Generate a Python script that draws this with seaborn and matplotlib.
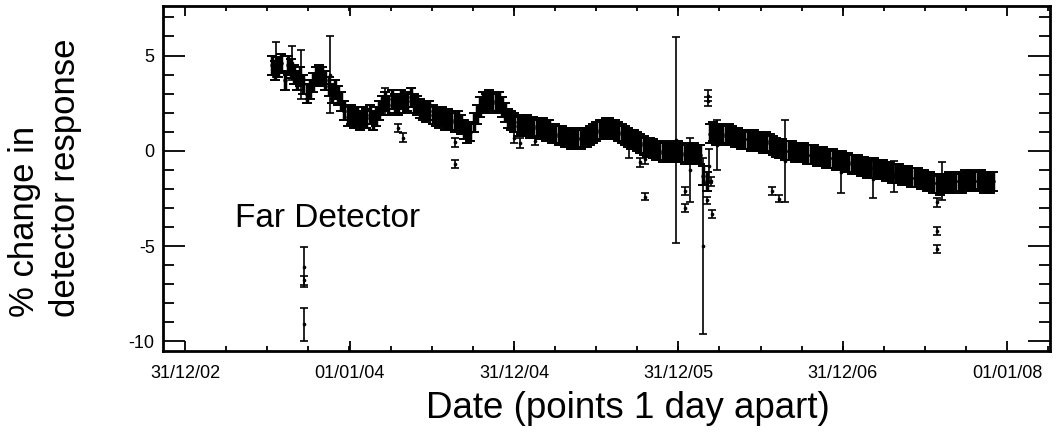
import numpy as np
import pandas as pd
import matplotlib
matplotlib.use("Agg")
import matplotlib.pyplot as plt
import matplotlib.dates as mdates
from matplotlib.ticker import MultipleLocator, FixedLocator
import seaborn as sns

# ---------------- data ----------------
series_start = "2003-07-12"          # first daily point shown, values sampled weekly
weekly_response = [
    4.5, 4.2, 4.4, 4.6, 3.7, 4.5, 4.3, 4.0, 3.7, 3.9,
    3.5, 3.0, 3.2, 3.6, 3.9, 4.0, 3.9, 3.7, 3.4, 3.0,
    3.2, 2.9, 2.6, 2.1, 1.8, 1.9, 1.7, 1.8, 1.6, 1.8,
    1.7, 1.9, 1.6, 1.8, 2.1, 2.4, 2.6, 2.4, 2.7, 2.5,
    2.4, 2.7, 2.5, 2.6, 2.8, 2.5, 2.4, 2.2, 2.1, 2.0,
    2.1, 1.9, 1.8, 1.7, 1.8, 1.6, 1.7, 1.6, 1.5, 1.6,
    1.4, 1.1, 0.9, 1.0, 1.5, 1.9, 2.3, 2.6, 2.5, 2.7,
    2.6, 2.5, 2.6, 2.3, 2.0, 1.7, 1.6, 1.5, 1.3, 1.4,
    1.3, 1.4, 1.2, 1.3, 1.2, 1.1, 1.2, 1.0, 1.1, 0.9,
    0.9, 0.8, 0.8, 0.7, 0.7, 0.6, 0.6, 0.7, 0.6, 0.7,
    0.7, 0.8, 0.9, 1.0, 1.1, 1.1, 1.2, 1.2, 1.1, 1.1,
    1.0, 0.9, 0.8, 0.7, 0.6, 0.6, 0.5, 0.4, 0.3, 0.2,
    0.2, 0.1, 0.0, 0.0, -0.1, -0.1, 0.0, -0.1, -0.1, 0.0,
    -0.1, -0.2, -0.1, -0.2, -0.1, -0.2, -0.2, -1.3, -1.6, 0.9,
    1.0, 0.8, 0.9, 0.9, 0.8, 0.9, 0.8, 0.7, 0.7, 0.6,
    0.6, 0.6, 0.5, 0.6, 0.5, 0.5, 0.4, 0.5, 0.4, 0.3,
    0.2, 0.1, 0.1, 0.0, 0.0, 0.0, -0.1, -0.1, -0.1, -0.1,
    -0.2, -0.2, -0.2, -0.3, -0.3, -0.3, -0.4, -0.4, -0.4, -0.5,
    -0.5, -0.5, -0.6, -0.6, -0.7, -0.7, -0.7, -0.8, -0.8, -0.9,
    -0.9, -0.9, -1.0, -1.0, -1.0, -1.1, -1.1, -1.2, -1.2, -1.2,
    -1.3, -1.3, -1.3, -1.4, -1.4, -1.4, -1.5, -1.5, -1.6, -1.6,
    -1.7, -1.7, -1.8, -1.7, -1.7, -1.6, -1.7, -1.6, -1.6, -1.7,
    -1.5, -1.6, -1.5, -1.6, -1.6, -1.5, -1.7, -1.6, -1.7, -1.6,
]
weekly_error = 0.5

outlier_dates = [
    "2003-09-21", "2003-09-21", "2003-09-21", "2003-11-18", "2004-04-17",
    "2004-04-28", "2004-08-21", "2004-08-21", "2004-12-30", "2005-01-13",
    "2005-02-15", "2005-10-06", "2005-10-17", "2005-10-17", "2005-12-27",
    "2006-01-14", "2006-01-14", "2006-01-27", "2006-02-23", "2006-03-04",
    "2006-03-06", "2006-03-06", "2006-03-10", "2006-03-13", "2006-03-17",
    "2006-03-28", "2006-07-28", "2006-08-11", "2006-08-26", "2006-12-28",
    "2007-03-09", "2007-04-25", "2007-07-29", "2007-07-29", "2007-07-29",
    "2007-08-10", "2003-07-21", "2003-08-26", "2003-09-15", "2004-03-20",
    "2005-09-12",
]
outlier_values = [
    -6.1, -6.8, -9.1, 4.0, 1.2,
    0.7, 0.45, -0.7, 0.7, 0.4,
    0.5, -0.6, -0.45, -2.4, 0.55,
    -2.1, -3.0, -1.0, -5.0, -2.6,
    2.9, 2.6, -0.8, -1.6, -3.3,
    0.3, -2.1, -2.5, -0.55, -1.1,
    -1.5, -1.35, -2.7, -4.2, -5.15,
    -1.6, 4.8, 4.6, 4.0, 2.6,
    0.2,
]
outlier_errors = [
    1.05, 0.25, 0.85, 2.0, 0.2,
    0.25, 0.25, 0.2, 0.3, 0.25,
    0.2, 0.25, 0.25, 0.2, 5.4,
    0.2, 0.2, 1.7, 4.6, 0.2,
    0.3, 0.25, 0.9, 0.25, 0.2,
    1.3, 0.2, 0.2, 2.15, 1.1,
    0.95, 0.8, 0.25, 0.2, 0.2,
    1.0, 0.9, 0.9, 1.3, 0.7,
    0.6,
]

tick_dates = ["2002-12-31", "2004-01-01", "2004-12-31", "2005-12-31", "2006-12-31", "2008-01-01"]
tick_labels = ["31/12/02", "01/01/04", "31/12/04", "31/12/05", "31/12/06", "01/01/08"]

x_label = "Date (points 1 day apart)"
y_label = "% change in\ndetector response"
panel_text = "Far Detector"

# ---------------- figure ----------------
sns.set_theme(style="ticks")
plt.rcParams["font.family"] = ["Liberation Sans", "DejaVu Sans"]
plt.rcParams["axes.unicode_minus"] = False

W, H = 1062, 438
fig = plt.figure(figsize=(W / 100, H / 100), dpi=100)
fig.patch.set_facecolor("white")
ax = fig.add_axes([163 / W, 1 - 351 / H, (1050 - 163) / W, (351 - 6) / H])
ax.set_facecolor("white")

main = pd.DataFrame({
    "date": pd.date_range(series_start, periods=len(weekly_response), freq="7D"),
    "response": weekly_response,
})
outl = pd.DataFrame({
    "date": pd.to_datetime(outlier_dates),
    "response": outlier_values,
    "err": outlier_errors,
})

ax.errorbar(main["date"], main["response"], yerr=weekly_error, fmt="none", ecolor="black",
            elinewidth=2.5, capsize=3.4, capthick=1.4, zorder=2)
ax.errorbar(outl["date"], outl["response"], yerr=outl["err"], fmt="none", ecolor="black",
            elinewidth=1.2, capsize=2.8, capthick=1.2, zorder=2)
sns.scatterplot(data=main, x="date", y="response", ax=ax, color="black", s=10,
                linewidth=0, legend=False, zorder=3)
sns.scatterplot(data=outl, x="date", y="response", ax=ax, color="black", s=7,
                linewidth=0, legend=False, zorder=3)

ax.set_xlim(pd.Timestamp("2002-11-12"), pd.Timestamp("2008-04-05"))
ax.set_ylim(-10.5, 7.6)

major_pos = mdates.date2num(pd.to_datetime(tick_dates))
ax.xaxis.set_major_locator(FixedLocator(major_pos))
ax.set_xticklabels(tick_labels)
step = np.diff(major_pos).mean() / 4
minor_pos = np.arange(major_pos[0] - 4 * step, major_pos[-1] + 4 * step, step)
ax.xaxis.set_minor_locator(FixedLocator(minor_pos))
ax.yaxis.set_major_locator(MultipleLocator(5))
ax.yaxis.set_minor_locator(MultipleLocator(1))

ax.tick_params(which="both", direction="in", top=True, right=True, color="black",
               labelcolor="black", labelsize=13, width=1.3)
ax.tick_params(axis="y", which="major", length=16, pad=6)
ax.tick_params(axis="y", which="minor", length=8)
ax.tick_params(axis="x", which="major", length=7, pad=10)
ax.tick_params(axis="x", which="minor", length=3.5)
for s in ax.spines.values():
    s.set_linewidth(2.0)
    s.set_color("black")

ax.set_xlabel("")
ax.set_ylabel("")
fig.text(628 / W, 1 - 408 / H, x_label, ha="center", va="center", fontsize=26.5, color="black")
fig.text(45 / W, 1 - 317 / H, y_label, rotation=90, ha="center", va="bottom",
         multialignment="left", fontsize=25, color="black", linespacing=1.3)
fig.text(235 / W, 1 - 227 / H, panel_text, ha="left", va="baseline", fontsize=24, color="black")

fig.savefig("out.png", dpi=100, facecolor="white")
